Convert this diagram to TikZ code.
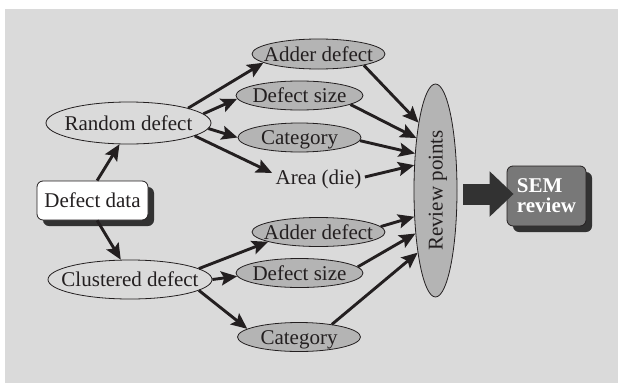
\documentclass[tikz,border=0pt]{standalone}
\usepackage{fontspec}
\setmainfont{Liberation Serif}
\usepackage{tikz}
\usetikzlibrary{arrows.meta,shapes.geometric,shadows}
\definecolor{bggray}{RGB}{218,218,218}
\definecolor{ovgray}{RGB}{180,180,180}
\definecolor{ink}{RGB}{35,31,32}
\definecolor{semgray}{RGB}{120,120,120}
\definecolor{shade}{RGB}{50,50,50}
\newcommand{\ctr}[1]{\makebox[0pt]{#1}}

\begin{document}
\begin{tikzpicture}[x=1pt, y=-1pt, font=\fontsize{21}{20}\selectfont, text=ink,
  oval/.style={ellipse, draw=ink, line width=0.8pt, inner sep=0pt, text height=14pt, text depth=0pt},
  light/.style={oval, fill=bggray},
  dark/.style={oval, fill=ovgray},
  box/.style={draw=ink, line width=0.8pt, rounded corners=6pt, inner sep=0pt,
    drop shadow={shadow xshift=6pt, shadow yshift=-6pt, fill=shade, opacity=1}},
  arr/.style={draw=ink, line width=2.9pt, -{Stealth[length=16pt,width=14pt,inset=3pt]}},
  bigarr/.style={draw=shade, line width=21pt, -{Triangle[length=24pt,width=44pt]}}]
  \useasboundingbox (0,0) rectangle (618,383);
  \fill[bggray] (5,9) rectangle (618,383);

  \node[box, fill=white, minimum width=111pt, minimum height=39pt] (data) at (92.5,200.5) {Defect data};
  \node[light, minimum width=165pt, minimum height=42pt] (rand) at (128.5,123) {\ctr{Random defect}};
  \node[light, minimum width=164pt, minimum height=39pt] (clus) at (130,279.5) {\ctr{Clustered defect}};

  \node[dark, minimum width=133pt, minimum height=30pt] (adder1) at (318.5,54) {\ctr{Adder defect}};
  \node[dark, minimum width=127pt, minimum height=29pt] (size1) at (299.5,95.5) {\ctr{Defect size}};
  \node[dark, minimum width=123pt, minimum height=29pt] (cat1) at (299.5,137.5) {\ctr{Category}};
  \node[text height=14pt, text depth=0pt] (area) at (318.5,177) {Area (die)};
  \node[dark, minimum width=133pt, minimum height=29pt] (adder2) at (318.5,232) {\ctr{Adder defect}};
  \node[dark, minimum width=127pt, minimum height=29pt] (size2) at (299.5,273) {\ctr{Defect size}};
  \node[dark, minimum width=123pt, minimum height=29pt] (cat2) at (299,337) {\ctr{Category}};

  \node[dark, rotate=90, minimum width=213pt, minimum height=43pt] (review) at (435.5,190.5) {\ctr{Review points}};
  \node[box, fill=semgray, text=white, font=\fontsize{21}{20}\selectfont\bfseries, align=left,
    minimum width=79pt, minimum height=60pt] (sem) at (546.5,196) {SEM\\review};

  \draw[arr] (data.77) -- (rand.247);
  \draw[arr] (data.-77) -- (clus.115);
  \draw[arr] (rand.14) -- (adder1.189);
  \draw[arr] (rand.7) -- (size1.183);
  \draw[arr] (rand.-4) -- (cat1.180);
  \draw[arr] (rand.-11) -- (area.175);
  \draw[arr] (clus.9) -- (adder2.191);
  \draw[arr] (clus.0) -- (size2.183);
  \draw[arr] (clus.-9) -- (cat2.171);
  % local angles of the turned oval
  \draw[arr] (adder1.-14) -- (review.14);
  \draw[arr] (size1.-10) -- (review.20);
  \draw[arr] (cat1.-3) -- (review.29);
  \draw[arr] (area.0) -- (review.40);
  \draw[arr] (adder2.5) -- (review.141);
  \draw[arr] (size2.6) -- (review.155);
  \draw[arr] (cat2.21) -- (review.164);

  \coordinate (tip) at ([xshift=7pt,yshift=2pt]sem.west);
  \draw[bigarr, shorten <=6pt] (tip -| review.south) -- (tip);
\end{tikzpicture}
\end{document}
